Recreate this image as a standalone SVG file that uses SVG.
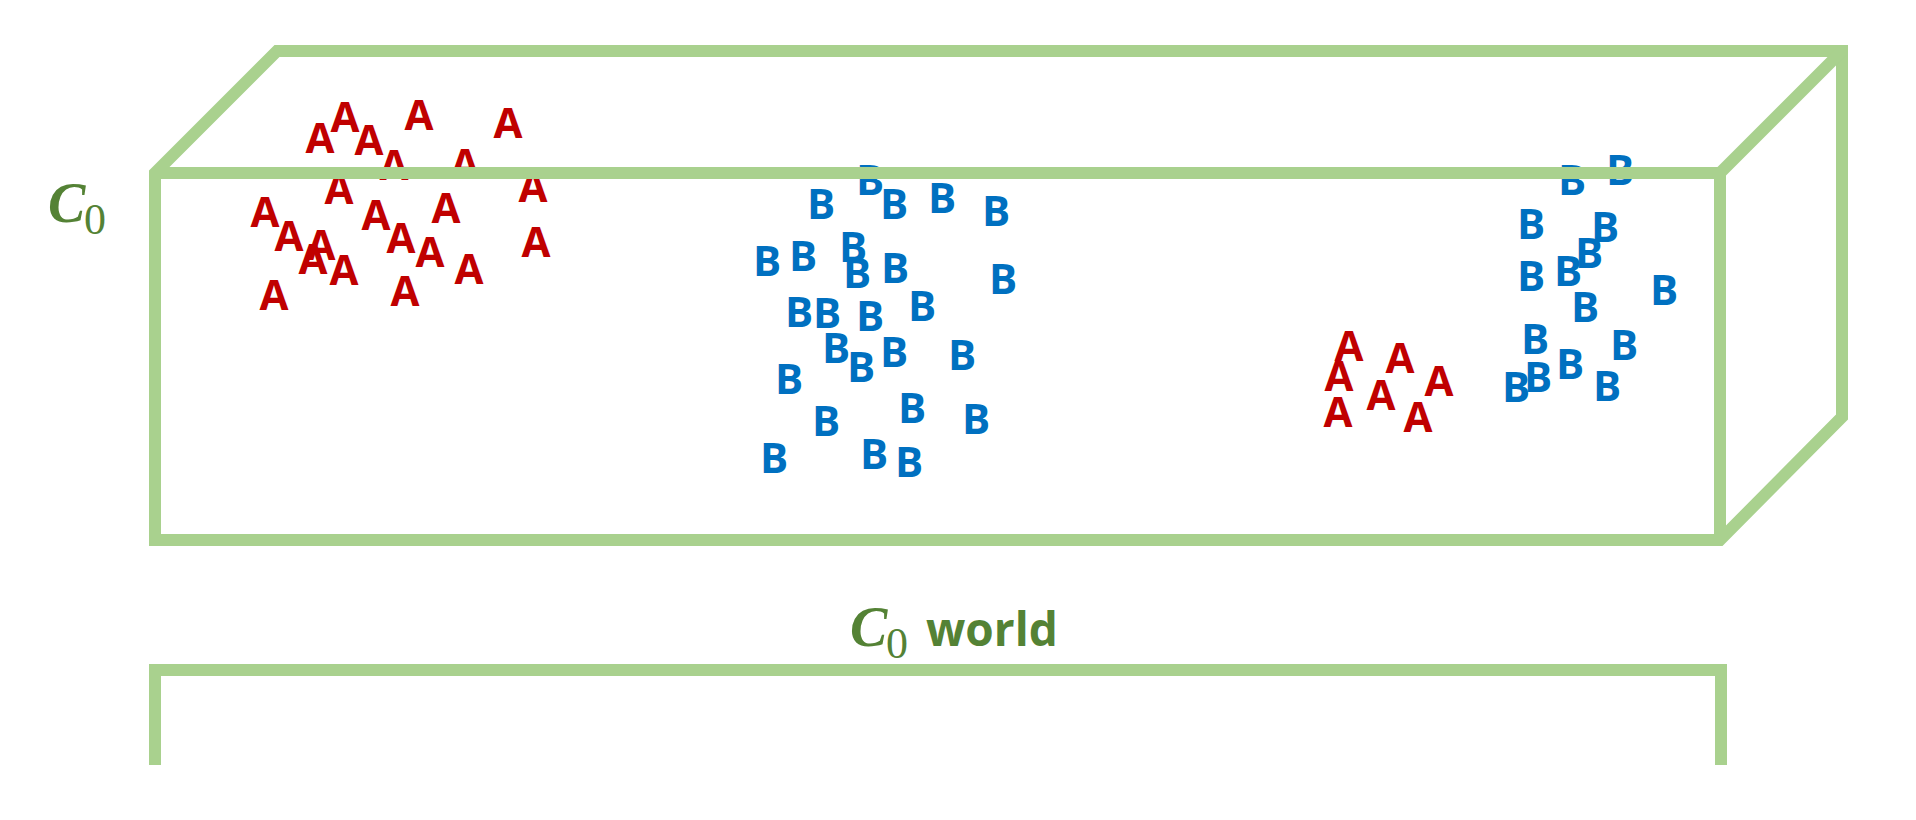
<svg xmlns="http://www.w3.org/2000/svg" width="1916" height="820" viewBox="0 0 1916 820">
<style>
.a{font-family:"Open Sans","Liberation Sans",sans-serif;font-weight:700;font-size:42px;fill:#C00000;text-anchor:middle}
.b{font-family:"Open Sans","Liberation Sans",sans-serif;font-weight:700;font-size:42px;fill:#0070C0;text-anchor:middle}
.ln{fill:none;stroke:#A9D18E;stroke-width:12;stroke-linejoin:miter;stroke-linecap:butt}
.ci{font-family:"Liberation Serif",serif;font-style:italic;font-weight:700;fill:#548235}
.cs{font-family:"Liberation Serif",serif;fill:#548235}
.w{font-family:"Open Sans","Liberation Sans",sans-serif;font-weight:700;fill:#548235}
</style>
<rect width="1916" height="820" fill="#FFFFFF"/>
<g id="cluster-A-left">
<text class="a" x="320" y="153">A</text>
<text class="a" x="345" y="132">A</text>
<text class="a" x="369" y="155">A</text>
<text class="a" x="419" y="130">A</text>
<text class="a" x="508" y="138">A</text>
<text class="a" x="394" y="180">A</text>
<text class="a" x="465" y="179">A</text>
<text class="a" x="339" y="204">A</text>
<text class="a" x="533" y="202">A</text>
<text class="a" x="265" y="227">A</text>
<text class="a" x="376" y="230">A</text>
<text class="a" x="446" y="223">A</text>
<text class="a" x="289" y="251">A</text>
<text class="a" x="321" y="260">A</text>
<text class="a" x="401" y="253">A</text>
<text class="a" x="536" y="257">A</text>
<text class="a" x="313" y="274">A</text>
<text class="a" x="344" y="285">A</text>
<text class="a" x="430" y="267">A</text>
<text class="a" x="469" y="284">A</text>
<text class="a" x="274" y="310">A</text>
<text class="a" x="405" y="306">A</text>
</g>
<g id="cluster-B-middle">
<text class="b" x="870" y="195">B</text>
<text class="b" x="821" y="219">B</text>
<text class="b" x="894" y="219">B</text>
<text class="b" x="942" y="213">B</text>
<text class="b" x="996" y="226">B</text>
<text class="b" x="767" y="276">B</text>
<text class="b" x="803" y="271">B</text>
<text class="b" x="853" y="262">B</text>
<text class="b" x="857" y="288">B</text>
<text class="b" x="895" y="283">B</text>
<text class="b" x="1003" y="294">B</text>
<text class="b" x="799" y="327">B</text>
<text class="b" x="827" y="328">B</text>
<text class="b" x="870" y="331">B</text>
<text class="b" x="922" y="321">B</text>
<text class="b" x="836" y="363">B</text>
<text class="b" x="861" y="382">B</text>
<text class="b" x="894" y="367">B</text>
<text class="b" x="962" y="370">B</text>
<text class="b" x="789" y="394">B</text>
<text class="b" x="826" y="436">B</text>
<text class="b" x="912" y="423">B</text>
<text class="b" x="976" y="434">B</text>
<text class="b" x="774" y="473">B</text>
<text class="b" x="874" y="469">B</text>
<text class="b" x="909" y="477">B</text>
</g>
<g id="cluster-A-right">
<text class="a" x="1349" y="361">A</text>
<text class="a" x="1400" y="373">A</text>
<text class="a" x="1339" y="391">A</text>
<text class="a" x="1439" y="396">A</text>
<text class="a" x="1381" y="410">A</text>
<text class="a" x="1338" y="427">A</text>
<text class="a" x="1418" y="432">A</text>
</g>
<g id="cluster-B-right">
<text class="b" x="1572" y="195">B</text>
<text class="b" x="1620" y="185">B</text>
<text class="b" x="1531" y="239">B</text>
<text class="b" x="1605" y="242">B</text>
<text class="b" x="1589" y="268">B</text>
<text class="b" x="1531" y="291">B</text>
<text class="b" x="1568" y="286">B</text>
<text class="b" x="1664" y="305">B</text>
<text class="b" x="1585" y="322">B</text>
<text class="b" x="1535" y="354">B</text>
<text class="b" x="1624" y="360">B</text>
<text class="b" x="1570" y="379">B</text>
<text class="b" x="1538" y="392">B</text>
<text class="b" x="1516" y="402">B</text>
<text class="b" x="1607" y="401">B</text>
</g>
<g id="box">
<path class="ln" d="M155,540 L155,173 L277,51 L1842,51 L1842,417 L1720,540 Z"/>
<path class="ln" d="M155,173 H1720 V540"/>
<path class="ln" d="M1720,173 L1842,51"/>
</g>
<g id="bracket">
<path class="ln" d="M155,765 V670 H1721 V765"/>
</g>
<g id="label-c0">
<text class="ci" x="48" y="222" font-size="56">C</text>
<text class="cs" x="84" y="234" font-size="44">0</text>
</g>
<g id="label-world">
<text class="ci" x="850" y="646" font-size="56">C</text>
<text class="cs" x="886" y="658" font-size="44">0</text>
<text class="w" x="926" y="646" font-size="46">world</text>
</g>
</svg>
